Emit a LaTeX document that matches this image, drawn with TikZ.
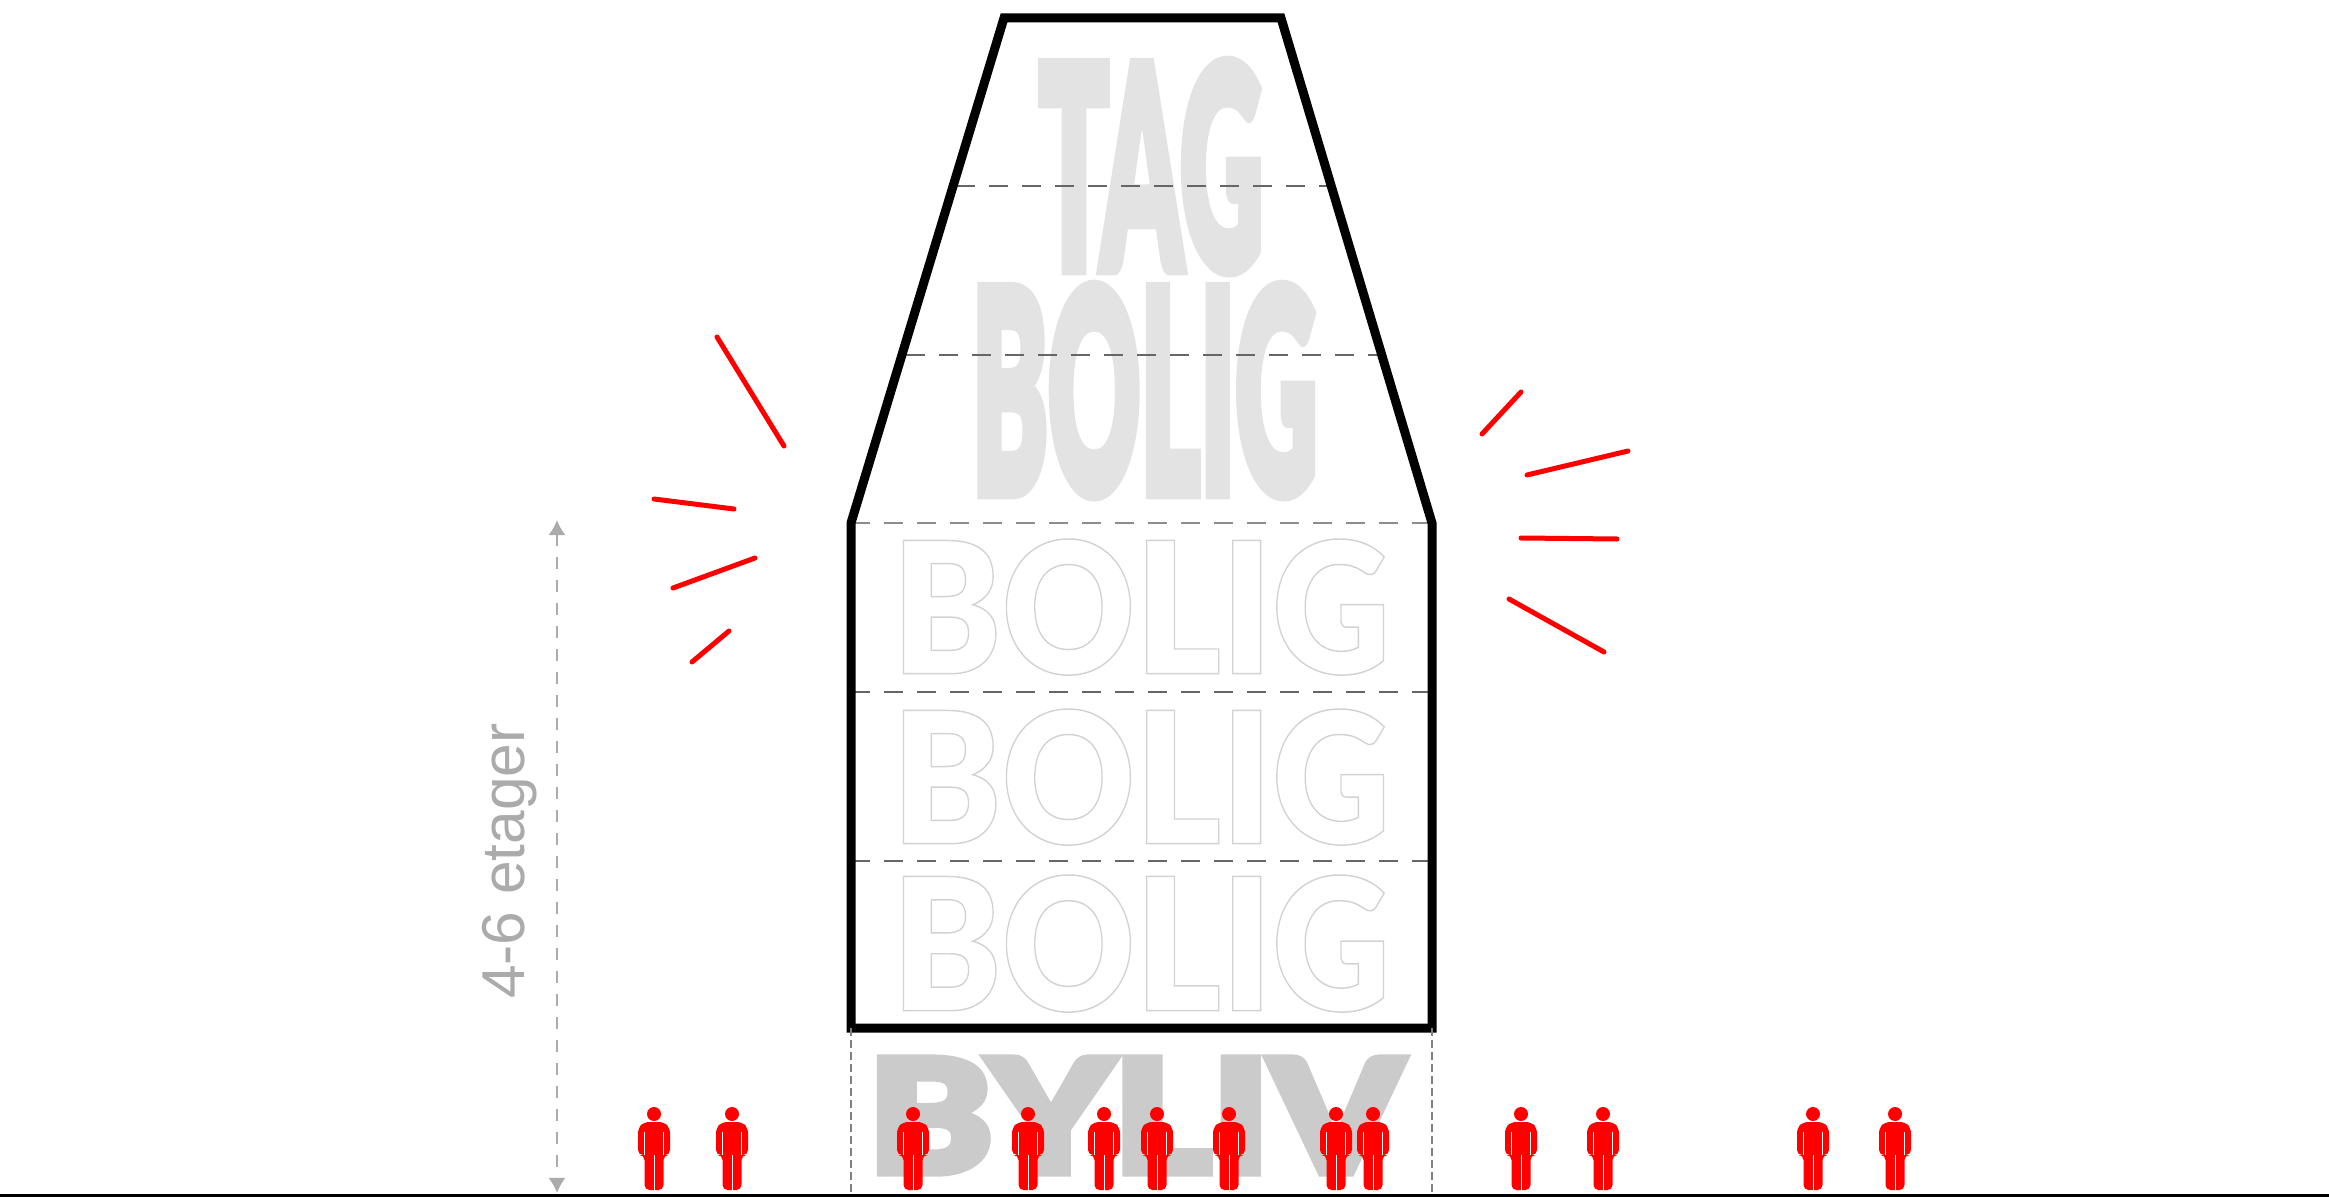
\documentclass[tikz,border=0pt]{standalone}
\usepackage{xcolor}
\usepackage{graphicx}
\usepackage{fontspec}
\setmainfont{Liberation Sans}
\IfFontExistsTF{Lato Black}{\newfontfamily\heavyfont{Lato Black}}{%
  \IfFontExistsTF{Poppins Black}{\newfontfamily\heavyfont{Poppins Black}}{%
    \newcommand{\heavyfont}{\bfseries}}}
\usepackage{tikz}
\usetikzlibrary{positioning,arrows.meta}
\definecolor{bygrey}{HTML}{CBCBCB}
\definecolor{taggrey}{HTML}{E3E3E3}
\definecolor{outgrey}{HTML}{D2D2D2}
\definecolor{dimgrey}{HTML}{ABABAB}
\newcommand{\solidtext}[1]{\special{pdf:code 2 Tr 0.45 w}\heavyfont #1\special{pdf:code 0 Tr}}
\newcommand{\hollowtext}[1]{\special{pdf:code 1 Tr 0.08 w}\heavyfont #1\special{pdf:code 0 Tr}}

\begin{document}
\begin{tikzpicture}[
  x=0.01cm, y=-0.01cm,
  word/.style={inner sep=0pt, outer sep=0pt, anchor=north west},
  wall/.style={draw=black, line width=0.09cm, line join=miter},
  floorline/.style={draw=black!60, line width=0.022cm, dash pattern=on 0.19cm off 0.14cm},
  plinth/.style={draw=black!50, line width=0.012cm, dash pattern=on 0.08cm off 0.04cm},
  dimline/.style={draw=dimgrey, line width=0.02cm, dash pattern=on 0.12cm off 0.11cm,
    {Latex[length=0.15cm,width=0.17cm]}-{Latex[length=0.15cm,width=0.17cm]}},
  ray/.style={draw=red, line width=0.05cm, line cap=round},
  person/.pic={
    \fill[red] (0,-76) circle[radius=7];
    \fill[red, rounded corners=0.05cm] (-16,-35) -- (-16,-62) -- (-10,-68) -- (10,-68)
      -- (16,-62) -- (16,-35) -- (9.5,-35) -- (9.5,0) -- (0,0) -- (-9.5,0) -- (-9.5,-35) -- cycle;
    \draw[white, line width=0.01cm] (-9.5,-35) -- (-9.5,-58);
    \draw[white, line width=0.01cm] (9.5,-35) -- (9.5,-58);
    \draw[white, line width=0.01cm] (0,-35) -- (0,0);
  }
]
\useasboundingbox (0,0) rectangle (2329,1197);
% Words behind the building
\node[word, text=taggrey] (tag) at (1039,62)
  {\resizebox*{2.24cm}{2.09cm}{\solidtext{TAG}}};
\node[word, text=taggrey] (toplevel) at (972,286)
  {\resizebox*{3.45cm}{2.09cm}{\solidtext{BOLIG}}};
\node[word, text=outgrey] (levelA) at (892,539)
  {\resizebox*{4.98cm}{1.36cm}{\hollowtext{BOLIG}}};
\node[word, text=outgrey] (levelB) at (892,709)
  {\resizebox*{4.98cm}{1.36cm}{\hollowtext{BOLIG}}};
\node[word, text=outgrey] (levelC) at (892,875)
  {\resizebox*{4.98cm}{1.37cm}{\hollowtext{BOLIG}}};
\node[word, text=bygrey] (byliv) at (868,1058)
  {\resizebox*{5.34cm}{1.15cm}{\solidtext{BYLIV}}};
% Floors
\coordinate (shoulderL) at (851,523);
\coordinate (shoulderR) at (1432,523);
\coordinate (baseL) at (851,1028);
\coordinate (baseR) at (1432,1028);
\coordinate (groundL) at (851,1195);
\coordinate (groundR) at (1432,1195);
\draw[floorline] (956,186) -- (1328,186);
\draw[floorline] (906,355) -- (1378,355);
\draw[floorline, draw=black!45] (shoulderL) -- (shoulderR);
\draw[floorline] (851,692) -- (1432,692);
\draw[floorline] (851,861) -- (1432,861);
% Building
\draw[wall] (1004,18) -- (1281,18) -- (shoulderR) -- (baseR) -- (baseL) -- (shoulderL) -- cycle;
\draw[plinth] (baseL) -- (groundL);
\draw[plinth] (baseR) -- (groundR);
% Ground
\draw[black, line width=0.03cm] (0,1195) -- (2329,1195);
% Height dimension
\coordinate (dimtop) at (557,520);
\coordinate (dimbot) at (557,1193);
\draw[dimline] (dimtop) -- (dimbot);
\node[text=dimgrey, font=\fontsize{17.2}{20}\selectfont, rotate=90, inner sep=0pt] (dimlabel) at (510,861) {4-6 etager};
% Red rays
\draw[ray] (717,337) -- (784,446);
\draw[ray] (654,499) -- (734,509);
\draw[ray] (673,588) -- (755,558);
\draw[ray] (692,662) -- (729,631);
\draw[ray] (1521,392) -- (1482,434);
\draw[ray] (1527,475) -- (1628,451);
\draw[ray] (1521,538) -- (1617,539);
\draw[ray] (1509,599) -- (1604,652);
% People
\foreach \px in {654,732,913,1028,1104,1157,1229,1336,1373,1521,1603,1813,1895}
  \pic at (\px,1190) {person};
\end{tikzpicture}
\end{document}
